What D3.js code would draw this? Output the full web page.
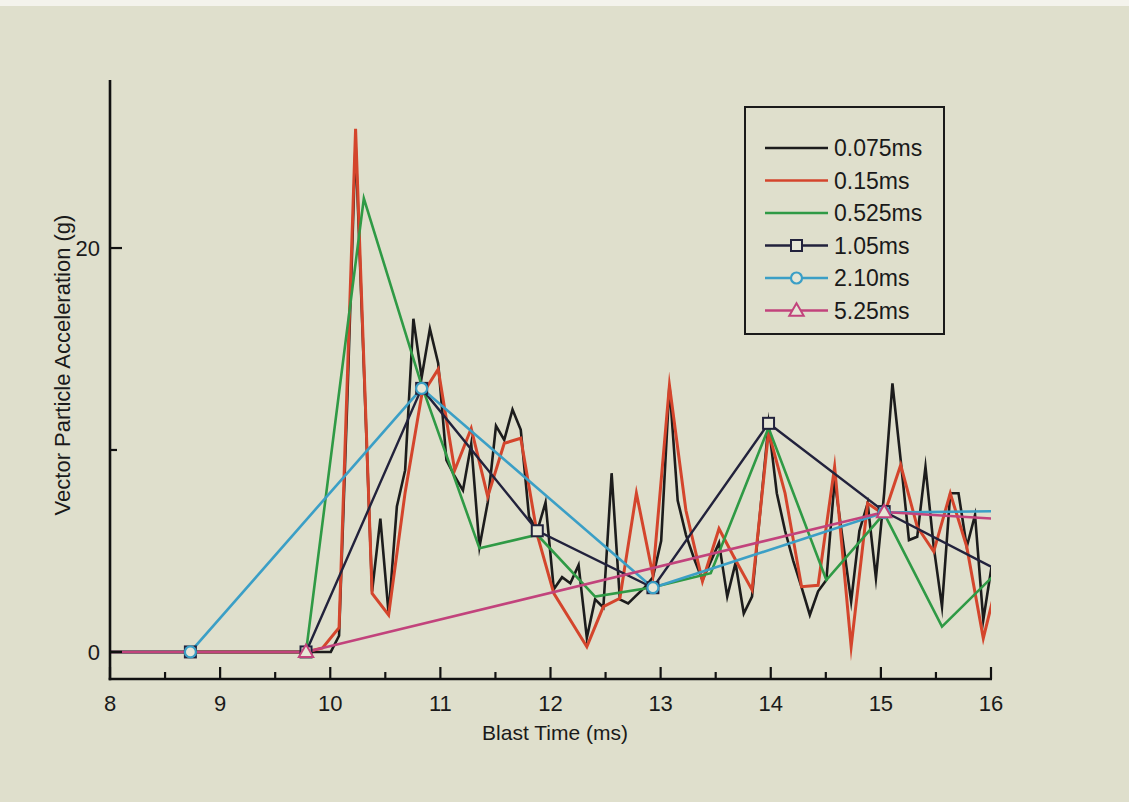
<!DOCTYPE html>
<html><head><meta charset="utf-8">
<script src="https://cdn.jsdelivr.net/npm/d3@7/dist/d3.min.js"></script>
<style>html,body{margin:0;padding:0;background:#dfdfcc;}svg{display:block;}</style>
</head><body>
<svg id="c" width="1129" height="802"></svg>
<script>
// ---- data (blast time in ms, vector particle acceleration in g) ----
const t075 = [8, 10.005, 10.08, 10.155, 10.23, 10.38, 10.455, 10.53, 10.605, 10.68, 10.755, 10.83, 10.905, 10.98, 11.055, 11.13, 11.205, 11.28, 11.355, 11.43, 11.505, 11.58, 11.655, 11.73, 11.805, 11.88, 11.955, 12.03, 12.105, 12.18, 12.255, 12.33, 12.405, 12.48, 12.555, 12.63, 12.705, 12.78, 12.855, 12.93, 13.005, 13.08, 13.155, 13.23, 13.305, 13.38, 13.53, 13.605, 13.68, 13.755, 13.83, 13.905, 13.98, 14.055, 14.13, 14.205, 14.28, 14.355, 14.43, 14.505, 14.58, 14.655, 14.73, 14.805, 14.88, 14.955, 15.03, 15.105, 15.18, 15.255, 15.33, 15.405, 15.48, 15.555, 15.63, 15.705, 15.78, 15.855, 15.93, 16.005];
const g075 = [0, 0, 0.8, 12.5, 25.2, 3.0, 6.6, 1.9, 7.2, 9.0, 16.5, 13.6, 16.0, 14.3, 9.5, 8.7, 8.0, 10.3, 5.2, 7.4, 11.2, 10.5, 12.0, 11.0, 6.7, 6.0, 7.4, 3.1, 3.7, 3.4, 4.3, 0.7, 2.6, 2.2, 8.85, 2.6, 2.4, 2.8, 3.2, 3.7, 5.5, 13.2, 7.5, 5.8, 4.6, 3.56, 5.4, 2.74, 4.4, 1.9, 2.74, 7.0, 11.3, 7.86, 6.0, 4.5, 3.2, 1.83, 3.0, 3.56, 8.5, 5.5, 2.5, 6.0, 7.36, 3.65, 7.86, 13.3, 9.5, 5.54, 5.7, 9.17, 5.2, 2.24, 7.86, 7.86, 5.2, 6.78, 1.58, 4.22];

const t15 = [8, 9.78, 9.93, 10.08, 10.23, 10.38, 10.53, 10.68, 10.83, 10.98, 11.13, 11.28, 11.43, 11.58, 11.73, 11.88, 12.03, 12.18, 12.33, 12.48, 12.63, 12.78, 12.93, 13.08, 13.23, 13.38, 13.53, 13.68, 13.83, 13.98, 14.13, 14.28, 14.43, 14.58, 14.73, 14.88, 15.03, 15.18, 15.33, 15.48, 15.63, 15.78, 15.93, 16.08];
const g15 = [0, 0, 0.2, 1.2, 25.9, 2.9, 1.83, 7.9, 12.7, 14.0, 9.0, 11.07, 7.69, 10.33, 10.58, 5.8, 2.9, 1.58, 0.26, 2.24, 2.66, 7.86, 3.8, 13.2, 7.0, 3.5, 6.1, 4.55, 3.07, 10.9, 7.86, 3.23, 3.3, 9.17, 0.26, 7.36, 6.8, 9.26, 6.2, 4.97, 7.86, 5.2, 0.68, 4.0];

const t525 = [8, 9.255, 9.78, 10.305, 10.83, 11.355, 11.88, 12.405, 12.93, 13.455, 13.98, 14.505, 15.03, 15.555, 16.08];
const g525 = [0, 0, 0, 22.46, 13.2, 5.13, 5.8, 2.74, 3.2, 3.9, 11.1, 3.56, 6.85, 1.25, 4.08];

const t105 = [7.68, 8.73, 9.78, 10.83, 11.88, 12.93, 13.98, 15.03, 16.08];
const g105 = [0, 0, 0, 13.05, 6.0, 3.18, 11.32, 6.95, 4.0];

const t210 = [6.63, 8.73, 10.83, 12.93, 15.03, 17.13];
const g210 = [0, 0, 13.05, 3.18, 6.9, 7.05];

const t525b = [4.53, 9.78, 15.03, 20.28];
const g525b = [0, 0, 6.93, 5.2];

const seriesNames = ["0.075ms", "0.15ms", "0.525ms", "1.05ms", "2.10ms", "5.25ms"];
const xTicks = [8, 9, 10, 11, 12, 13, 14, 15, 16];
const xMinorTicks = [8.5, 9.5, 10.5, 11.5, 12.5, 13.5, 14.5, 15.5];
const yTicks = [0, 20];
const yMinorTicks = [10];
const xTitle = "Blast Time (ms)";
const yTitle = "Vector Particle Acceleration (g)";

// ---- layout ----
const svg = d3.select("#c");
const L = 110, R = 991, T = 80, B = 679;
const x = d3.scaleLinear().domain([8, 16]).range([L, R]);
const y = d3.scaleLinear().domain([-1.34, 28.32]).range([B, T]);
const FONT = "'Liberation Sans', Arial, sans-serif";

svg.append("rect").attr("width", 1129).attr("height", 802).attr("fill", "#dfdfcc");
svg.append("rect").attr("width", 1129).attr("height", 6).attr("fill", "#f4f3ec");

svg.append("defs").append("clipPath").attr("id", "plot")
  .append("rect").attr("x", L).attr("y", T - 2).attr("width", R - L).attr("height", B - T + 2);

const series = [
  {name: seriesNames[0], t: t075, g: g075, color: "#1c1c1c", w: 2.6, marker: null},
  {name: seriesNames[1], t: t15, g: g15, color: "#d4452c", w: 3.0, marker: null},
  {name: seriesNames[2], t: t525, g: g525, color: "#2f9a45", w: 2.6, marker: null},
  {name: seriesNames[3], t: t105, g: g105, color: "#22223c", w: 2.4, marker: "square"},
  {name: seriesNames[4], t: t210, g: g210, color: "#3b9fc6", w: 2.6, marker: "circle"},
  {name: seriesNames[5], t: t525b, g: g525b, color: "#c2437c", w: 2.6, marker: "triangle"}
];

const line = d3.line().x(d => x(d[0])).y(d => y(d[1]));
const plot = svg.append("g").attr("clip-path", "url(#plot)");
series.forEach(s => {
  const pts = s.t.map((t, i) => [t, s.g[i]]);
  plot.append("path").datum(pts).attr("d", line)
    .attr("fill", "none").attr("stroke", s.color).attr("stroke-width", s.w)
    .attr("stroke-linejoin", "miter").attr("stroke-miterlimit", 10);
});

function drawMarker(g, type, cx, cy, color) {
  if (type === "square") {
    g.append("rect").attr("x", cx - 5.5).attr("y", cy - 5.5).attr("width", 11).attr("height", 11)
      .attr("fill", "#e6e6d6").attr("stroke", color).attr("stroke-width", 2);
  } else if (type === "circle") {
    g.append("circle").attr("cx", cx).attr("cy", cy).attr("r", 5.5)
      .attr("fill", "#e6e6d6").attr("stroke", color).attr("stroke-width", 2.2);
  } else if (type === "triangle") {
    g.append("path").attr("d", d3.symbol().type(d3.symbolTriangle).size(90)())
      .attr("transform", `translate(${cx},${cy + 1})`)
      .attr("fill", "#e6e6d6").attr("stroke", color).attr("stroke-width", 2);
  }
}
const mk = svg.append("g");
series.filter(s => s.marker).forEach(s => {
  s.t.forEach((t, i) => {
    if (t >= 8 && t <= 16) drawMarker(mk, s.marker, x(t), y(s.g[i]), s.color);
  });
});

// ---- axes ----
const ax = svg.append("g").attr("stroke", "#111").attr("stroke-width", 2.6);
ax.append("line").attr("x1", L).attr("x2", L).attr("y1", T).attr("y2", B + 1.3);
ax.append("line").attr("x1", L - 1.3).attr("x2", R + 1).attr("y1", B).attr("y2", B);
xTicks.forEach(v => ax.append("line").attr("x1", x(v)).attr("x2", x(v)).attr("y1", B).attr("y2", B - 12).attr("stroke-width", 2.2));
xMinorTicks.forEach(v => ax.append("line").attr("x1", x(v)).attr("x2", x(v)).attr("y1", B).attr("y2", B - 7).attr("stroke-width", 2.2));
yTicks.forEach(v => ax.append("line").attr("x1", L).attr("x2", L + 12).attr("y1", y(v)).attr("y2", y(v)).attr("stroke-width", 2.2));
yMinorTicks.forEach(v => ax.append("line").attr("x1", L).attr("x2", L + 7).attr("y1", y(v)).attr("y2", y(v)).attr("stroke-width", 2.2));

const txt = svg.append("g").attr("font-family", FONT).attr("fill", "#1a1a1a");
xTicks.forEach(v => txt.append("text").attr("x", x(v)).attr("y", B + 32)
  .attr("text-anchor", "middle").attr("font-size", 22).text(v));
yTicks.forEach(v => txt.append("text").attr("x", L - 10).attr("y", y(v) + 8)
  .attr("text-anchor", "end").attr("font-size", 22).text(v));
txt.append("text").attr("x", 555).attr("y", 740).attr("text-anchor", "middle")
  .attr("font-size", 21).text(xTitle);
txt.append("text").attr("transform", `translate(70,365) rotate(-90)`)
  .attr("text-anchor", "middle").attr("font-size", 22).text(yTitle);

// ---- legend ----
const lg = svg.append("g");
lg.append("rect").attr("x", 745).attr("y", 107).attr("width", 199).attr("height", 227)
  .attr("fill", "none").attr("stroke", "#1a1a1a").attr("stroke-width", 2);
series.forEach((s, i) => {
  const yy = 148 + i * 32.5;
  lg.append("line").attr("x1", 765).attr("x2", 828).attr("y1", yy).attr("y2", yy)
    .attr("stroke", s.color).attr("stroke-width", 2.6);
  if (s.marker) drawMarker(lg, s.marker, 796.5, yy, s.color);
  lg.append("text").attr("x", 834).attr("y", yy + 8).attr("font-family", FONT)
    .attr("font-size", 23).attr("fill", "#1a1a1a").text(s.name);
});
</script>
</body></html>
